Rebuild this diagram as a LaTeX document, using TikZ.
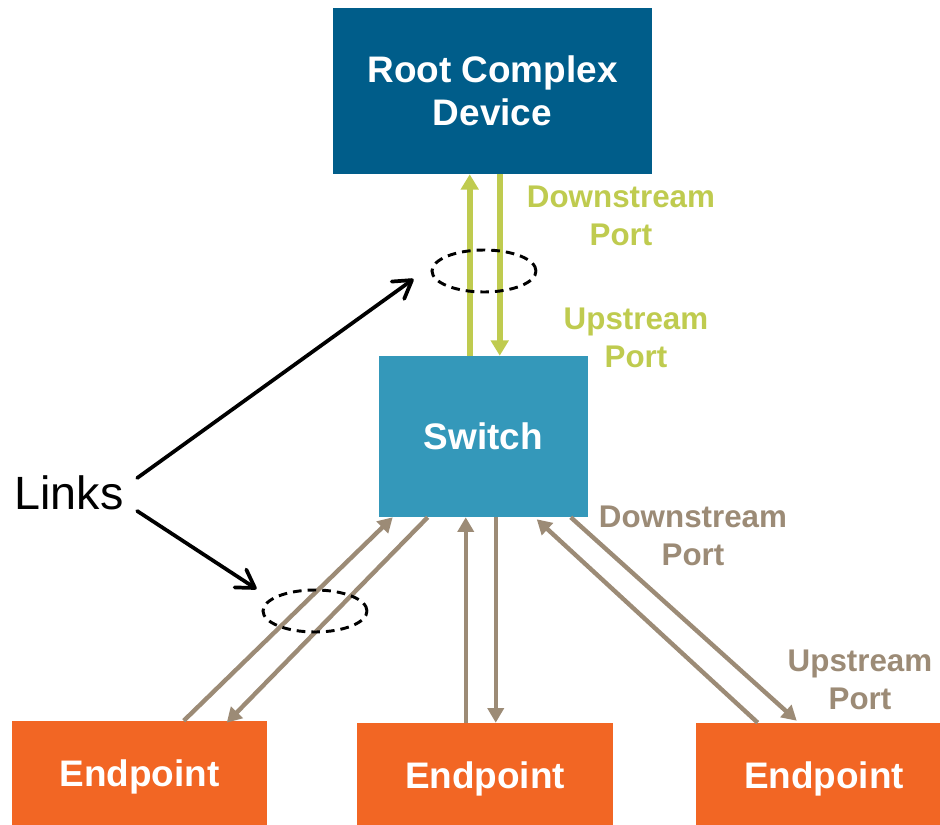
\documentclass[tikz,border=0pt]{standalone}
\usepackage{fontspec}
\setmainfont{Liberation Sans}
\usetikzlibrary{arrows.meta,shapes.geometric}
\definecolor{rootblue}{HTML}{005D8A}
\definecolor{swblue}{HTML}{3498BA}
\definecolor{eporange}{HTML}{F26624}
\definecolor{lgreen}{HTML}{BFCB4F}
\definecolor{tan}{HTML}{9C8B76}
\tikzset{
  box/.style={rectangle, inner sep=0pt, text=white, font=\bfseries\fontsize{27.7}{32}\selectfont, align=center},
  boxtext/.style={inner sep=0pt, text=white, font=\bfseries\fontsize{27.7}{32}\selectfont},
  lbl/.style={font=\bfseries\fontsize{23.5}{28}\selectfont, align=center},
  garrow/.style={draw=lgreen, line width=4.3pt, -{Triangle[width=13pt,length=11.5pt]}},
  barrow/.style={draw=tan, line width=3.3pt, -{Triangle[width=12pt,length=11pt]}},
  karrow/.style={draw=black, line width=2.8pt, line cap=round, -{Straight Barb[length=13pt,width=16pt,round]}},
  ring/.style={ellipse, draw=black, dash pattern=on 6.5pt off 4.5pt, line width=2.2pt, minimum width=0.75pt*104, minimum height=0.75pt*42, inner sep=0pt}
}
\begin{document}
\begin{tikzpicture}[x=0.75pt,y=-0.75pt]
\useasboundingbox (0,0) rectangle (940,825);
\node[box, fill=rootblue, minimum width=0.75pt*319, minimum height=0.75pt*166] (root) at (492.5,91) {Root Complex\\Device};
\node[box, fill=swblue, minimum width=0.75pt*209, minimum height=0.75pt*161] (sw) at (483.5,436.5) {Switch};
\node[box, fill=eporange, minimum width=0.75pt*255, minimum height=0.75pt*104] (ep1) at (139.5,773) {};
\node[box, fill=eporange, minimum width=0.75pt*256, minimum height=0.75pt*102] (ep2) at (485,774) {};
\node[box, fill=eporange, minimum width=0.75pt*244, minimum height=0.75pt*102] (ep3) at (818,774) {};
\node[boxtext] (ep1t) at ([shift={(0,4)}]ep1.center) {Endpoint};
\node[boxtext] (ep2t) at ([shift={(0,5)}]ep2.center) {Endpoint};
\node[boxtext] (ep3t) at ([shift={(6,5)}]ep3.center) {Endpoint};

\node[lbl, text=lgreen] (gdp) at (621,216) {Downstream\\Port};
\node[lbl, text=lgreen] (gup) at (636,338) {Upstream\\Port};
\node[lbl, text=tan] (bdp) at (693,536) {Downstream\\Port};
\node[lbl, text=tan] (bup) at (860,680) {Upstream\\Port};
\node[font=\fontsize{35}{40}\selectfont] (links) at (69,493) {Links};

% green link
\draw[garrow] ([shift={(91,0)}]sw.north west) -- ([shift={(137,0)}]root.south west);
\draw[garrow] ([shift={(167,0)}]root.south west) -- ([shift={(121,0)}]sw.north west);

% brown links
\draw[barrow] ([shift={(172,0)}]ep1.north west) -- ([shift={(14,0)}]sw.south west);
\draw[barrow] ([shift={(49,0)}]sw.south west) -- ([shift={(215,2)}]ep1.north west);
\draw[barrow] ([shift={(109,0)}]ep2.north west) -- ([shift={(87,0)}]sw.south west);
\draw[barrow] ([shift={(117,0)}]sw.south west) -- ([shift={(139,0)}]ep2.north west);
\draw[barrow] ([shift={(62,0)}]ep3.north west) -- ([shift={(158,2)}]sw.south west);
\draw[barrow] ([shift={(192,0)}]sw.south west) -- ([shift={(101,-2)}]ep3.north west);

% dashed rings
\node[ring] (ring1) at (484,271) {};
\node[ring] (ring2) at (315,611) {};

% links arrows
\draw[karrow] ([shift={(9,-15)}]links.east) -- ([shift={(-17,8)}]ring1.west);
\draw[karrow] ([shift={(9,18)}]links.east) -- ([shift={(-5,-22)}]ring2.west);
\end{tikzpicture}
\end{document}
